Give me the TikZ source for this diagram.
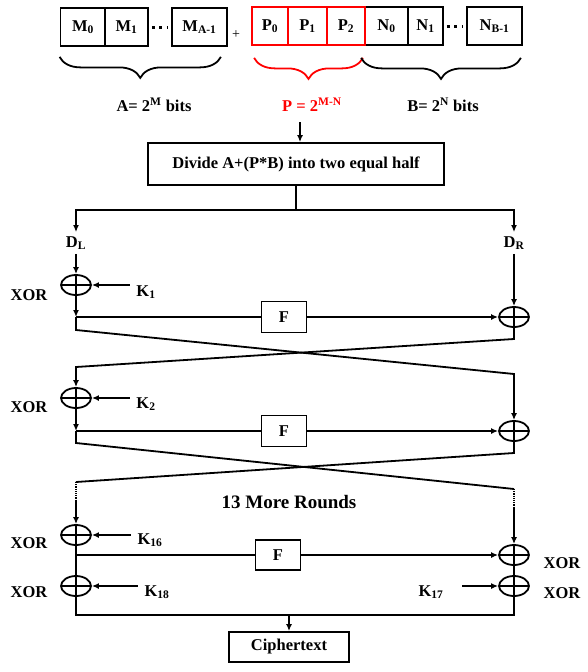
\documentclass[tikz,border=0pt]{standalone}
\usepackage{fontspec}
\setmainfont{Liberation Serif}
\usetikzlibrary{arrows.meta,shapes.geometric,decorations.pathreplacing}

\begin{document}
\begin{tikzpicture}[x=1pt,y=-1pt,line width=1.8pt,
    font=\bfseries\fontsize{16.5}{18}\selectfont,
    >={Latex[length=7pt,width=6pt]},
    cell/.style={draw,minimum height=38pt,inner sep=0pt},
    redcell/.style={cell,draw=red},
    dotrow/.style={line width=3pt,dash pattern=on 3pt off 4.5pt,shorten <=3pt,shorten >=3pt},
    xorop/.style={draw,ellipse,minimum width=30pt,minimum height=20pt,inner sep=0pt,
      path picture={\draw (path picture bounding box.north) -- (path picture bounding box.south)
        (path picture bounding box.west) -- (path picture bounding box.east);}},
    fnbox/.style={draw,minimum width=45pt,minimum height=31pt},
    brace/.style={decorate,decoration={brace,mirror,amplitude=21pt}},
    keyname/.style={inner sep=6pt}]
  \useasboundingbox (0,0) rectangle (588,672);

  % plaintext and key blocks
  \node[cell,minimum width=45pt] (m0) at (83,27) {M\textsubscript{0}};
  \node[cell,minimum width=43pt] (m1) at (126.5,27) {M\textsubscript{1}};
  \node[cell,minimum width=55pt] (ma) at (199.5,27) {M\textsubscript{A-1}};
  \node[font=\fontsize{14}{16}\selectfont] (plus) at (236,35) {+};
  \node[cell,minimum width=43pt] (n0) at (386.5,26) {N\textsubscript{0}};
  \node[cell,minimum width=35pt] (n1) at (425.5,26) {N\textsubscript{1}};
  \node[cell,minimum width=55pt] (nb) at (494.5,26) {N\textsubscript{B-1}};
  \node[redcell,minimum width=36pt] (p0) at (270,26) {P\textsubscript{0}};
  \node[redcell,minimum width=39pt] (p1) at (307.5,26) {P\textsubscript{1}};
  \node[redcell,minimum width=38pt] (p2) at (346,26) {P\textsubscript{2}};
  \draw[dotrow] (m1) -- (ma);
  \draw[dotrow] (n1) -- (nb);

  \draw[brace] ([yshift=-10pt]m0.south west) -- ([xshift=-7pt,yshift=-10pt]ma.south east);
  \draw[brace,red] ([xshift=3pt,yshift=-12pt]p0.south west) -- ([xshift=-3pt,yshift=-12pt]p2.south east);
  \draw[brace] ([xshift=-3pt,yshift=-12pt]n0.south west) -- ([xshift=-2pt,yshift=-12pt]nb.south east);
  \node (abits) at (154,105) {A= 2\textsuperscript{M} bits};
  \node[red] (pbits) at (312,105) {P = 2\textsuperscript{M-N}};
  \node (bbits) at (443,105) {B= 2\textsuperscript{N} bits};

  % split into halves
  \coordinate (in) at (300,122);
  \node[draw,minimum width=296pt,minimum height=42pt] (div) at (296,164) {Divide A+(P*B) into two equal half};
  \draw[->] (in) -- (in |- div.north);
  \coordinate (split) at (296,210);
  \node (dl) at (76,243) {D\textsubscript{L}};
  \node (dr) at (514,243) {D\textsubscript{R}};
  \draw (div) -- (split);
  \draw[->] (split) -| (dl);
  \draw[->] (split) -| (dr);

  % round 1
  \node[xorop] (x1) at (76,285) {};
  \node (xorl1) at (29,295) {XOR};
  \node[keyname] (k1) at (146,292) {K\textsubscript{1}};
  \node[fnbox] (f1) at (284,317) {F};
  \node[xorop] (y1) at (514,317) {};
  \coordinate (c1) at (76,317);
  \draw[->] (dl) -- (x1);
  \draw[->] (k1.west |- x1) -- (x1);
  \draw[->] (dr) -- (y1);
  \draw[->] (x1) -- (c1);
  \draw (c1) -- (f1);
  \draw[->] (f1) -- (y1);

  % round 2
  \node[xorop] (x2) at (76,398) {};
  \node (xorl2) at (29,407) {XOR};
  \node[keyname] (k2) at (146,404) {K\textsubscript{2}};
  \node[fnbox] (f2) at (284,431) {F};
  \node[xorop] (y2) at (514,431) {};
  \coordinate (c2) at (76,431);
  \draw[->] (c1) -- (76,330) -- (514,374) -- (y2);
  \draw[->] (y1) -- (514,339) -- (76,367) -- (x2);
  \draw[->] (k2.west |- x2) -- (x2);
  \draw[->] (x2) -- (c2);
  \draw (c2) -- (f2);
  \draw[->] (f2) -- (y2);

  % rounds 3 to 15
  \coordinate (l3) at (76,482);
  \coordinate (r3) at (514,489);
  \coordinate (lgap) at (76,501);
  \coordinate (rgap) at (514,508);
  \draw (c2) -- (76,443) -- (r3);
  \draw (y2) -- (514,453) -- (l3);
  \draw[densely dotted,line width=1.2pt] (l3) -- (lgap);
  \draw[densely dotted,line width=1.2pt] (r3) -- (rgap);
  \node[font=\bfseries\fontsize{19}{21}\selectfont] (more) at (289,502) {13 More Rounds};

  % round 16 and output whitening
  \node[xorop] (x3) at (76,535) {};
  \node (xorl3) at (29,543) {XOR};
  \node[keyname] (k16) at (150,540) {K\textsubscript{16}};
  \node[fnbox,minimum height=30pt] (f3) at (278,555) {F};
  \node[xorop] (y3) at (514,555) {};
  \node (xorr3) at (562,563) {XOR};
  \coordinate (c3) at (76,555);
  \node[xorop] (x4) at (76,586) {};
  \node (xorl4) at (29,592) {XOR};
  \node[keyname] (k18) at (157,592) {K\textsubscript{18}};
  \node[xorop] (y4) at (514,586) {};
  \node (xorr4) at (562,593) {XOR};
  \node[keyname] (k17) at (431,592) {K\textsubscript{17}};
  \draw[->] (lgap) -- (x3);
  \draw[->] (rgap) -- (y3);
  \draw[->] (k16.west |- x3) -- (x3);
  \draw (x3) -- (x4);
  \draw (c3) -- (f3);
  \draw[->] (f3) -- (y3);
  \draw (y3) -- (y4);
  \draw[->] (k18.west |- x4) -- (x4);
  \draw[->] ([xshift=12pt]k17.east |- y4) -- (y4);

  % ciphertext
  \coordinate (bl) at (76,615);
  \coordinate (br) at (514,615);
  \node[draw,minimum width=120pt,minimum height=30pt] (ct) at (289,647) {Ciphertext};
  \draw (x4) -- (bl) -- (br) -- (y4);
  \draw[->] (ct |- bl) -- (ct);
\end{tikzpicture}
\end{document}
